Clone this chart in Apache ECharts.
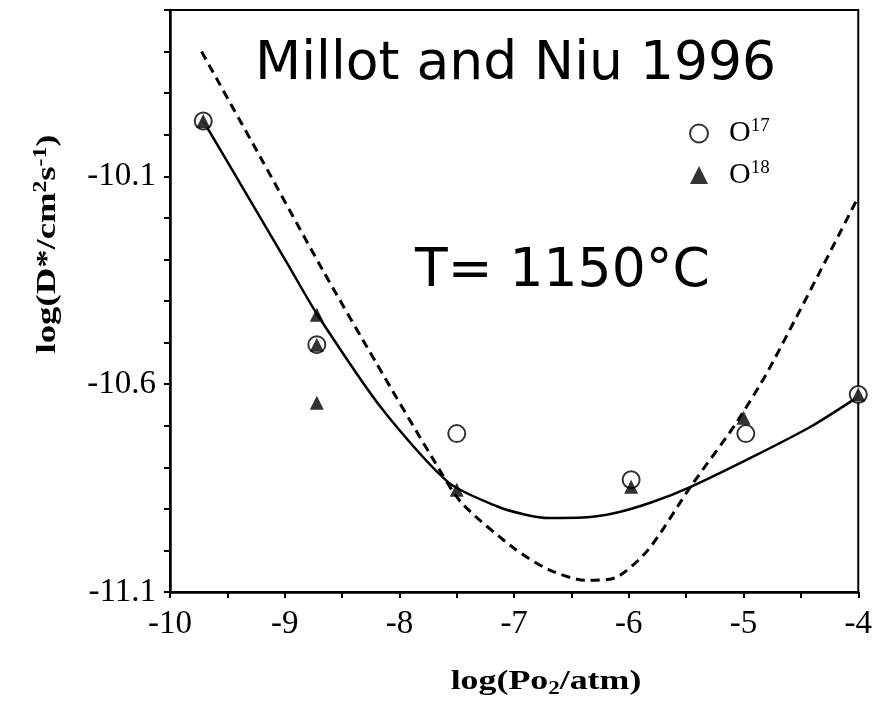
<!DOCTYPE html>
<html>
<head>
<meta charset="utf-8">
<script src="https://cdn.jsdelivr.net/npm/echarts@6.0.0/dist/echarts.min.js"></script>
<style>
  html, body { margin: 0; padding: 0; background: #fff; }
  #chart { width: 875px; height: 705px; }
</style>
</head>
<body>
<div id="chart"></div>
<script>
// ---- data ----
const xTickLabels = [-10, -9, -8, -7, -6, -5, -4];
const yTickLabels = [-10.1, -10.6, -11.1];

const o17Points = [
  [-9.71, -9.967], [-8.72, -10.505], [-7.5, -10.719],
  [-5.98, -10.83], [-4.98, -10.719], [-4.0, -10.625]
];
const o18Points = [
  [-9.71, -9.967], [-8.72, -10.433], [-8.72, -10.505], [-8.72, -10.645],
  [-7.5, -10.854], [-5.98, -10.847], [-5.0, -10.681], [-4.0, -10.625]
];
const solidFit = [
  [-9.71, -9.967], [-9.35, -10.135], [-8.96, -10.318], [-8.715, -10.433],
  [-8.15, -10.66], [-7.57, -10.837], [-7.14, -10.895], [-6.90, -10.914],
  [-6.70, -10.922], [-6.40, -10.921], [-6.12, -10.91], [-5.80, -10.884],
  [-5.46, -10.847], [-4.9, -10.772], [-4.4, -10.70], [-4.0, -10.63]
];
const dashedFit = [
  [-9.725, -9.80], [-9.2, -10.06], [-8.67, -10.325], [-8.2, -10.55],
  [-7.72, -10.774], [-7.46, -10.885], [-7.0, -10.995], [-6.70, -11.046],
  [-6.38, -11.072], [-6.12, -11.066], [-5.83, -10.998], [-5.46, -10.846],
  [-5.08, -10.70], [-4.78, -10.565], [-4.0, -10.15]
];
const titleText = 'Millot and Niu 1996';
const tempText = 'T= 1150°C';

// ---- chart ----
const chart = echarts.init(document.getElementById('chart'), null, { renderer: 'canvas' });
const serif = '"Liberation Serif", "Times New Roman", serif';

function isIn(list, v) {
  return list.some(t => Math.abs(t - v) < 1e-6);
}

const option = {
  backgroundColor: '#ffffff',
  animation: false,
  grid: {
    left: 170, right: 14, top: 10, bottom: 113,
    show: true, borderColor: '#000', borderWidth: 2, backgroundColor: 'transparent'
  },
  xAxis: {
    type: 'value', min: -10, max: -4, interval: 0.5,
    axisLine: { show: true, onZero: false, lineStyle: { color: '#000', width: 2.5 } },
    axisTick: { show: true, inside: false, length: 6, lineStyle: { color: '#000', width: 2 } },
    splitLine: { show: false },
    axisLabel: {
      margin: 16, color: '#000', fontFamily: serif, fontSize: 33,
      formatter: v => isIn(xTickLabels, v) ? String(Math.round(v)) : ''
    }
  },
  yAxis: {
    type: 'value', min: -11.1, max: -9.7, interval: 0.1,
    axisLine: { show: true, onZero: false, lineStyle: { color: '#000', width: 2.5 } },
    axisTick: { show: true, inside: false, length: 6, lineStyle: { color: '#000', width: 2 } },
    splitLine: { show: false },
    axisLabel: {
      margin: 14, color: '#000', fontFamily: serif, fontSize: 33,
      showMinLabel: true, showMaxLabel: true,
      formatter: v => isIn(yTickLabels, v) ? v.toFixed(1) : ''
    }
  },
  legend: {
    data: [
      { name: 'O17', itemStyle: { borderWidth: 2.5, borderColor: '#000' } },
      { name: 'O18', itemStyle: { borderWidth: 0 } }
    ],
    orient: 'vertical', left: 684, top: 112,
    itemWidth: 18, itemHeight: 18, itemGap: 10,
    selectedMode: false,
    textStyle: {
      color: '#000', padding: [0, 0, 0, 16],
      rich: {
        o: { fontFamily: serif, fontSize: 30, color: '#000' },
        s: { fontFamily: serif, fontSize: 19, color: '#000', verticalAlign: 'top', padding: [0, 0, 14, 0] }
      }
    },
    formatter: name => '{o|O}{s|' + name.slice(1) + '}'
  },
  graphic: [
    {
      type: 'text', left: 255, top: 38, silent: true,
      style: { text: titleText, font: '53.5px "DejaVu Sans"', fill: '#000' }
    },
    {
      type: 'text', left: 415, top: 245, silent: true,
      style: { text: tempText, font: '53.5px "DejaVu Sans"', fill: '#000' }
    },
    {
      type: 'text', x: 546, y: 682, scaleX: 1.28, silent: true,
      style: {
        text: '{a|log(Po}{b|2}{a|/atm)}',
        align: 'center', verticalAlign: 'middle',
        rich: {
          a: { fontFamily: serif, fontWeight: 'bold', fontSize: 28, fill: '#000', color: '#000' },
          b: { fontFamily: serif, fontWeight: 'bold', fontSize: 18, fill: '#000', color: '#000', verticalAlign: 'bottom', padding: [14, 0, 0, 0] }
        }
      }
    },
    {
      type: 'text', x: 48, y: 244, rotation: Math.PI / 2, scaleX: 1.31, silent: true,
      style: {
        text: '{a|log(D*/cm}{s|2}{a|s}{s|-1}{a|)}',
        align: 'center', verticalAlign: 'middle',
        rich: {
          a: { fontFamily: serif, fontWeight: 'bold', fontSize: 28, fill: '#000', color: '#000' },
          s: { fontFamily: serif, fontWeight: 'bold', fontSize: 18, fill: '#000', color: '#000', verticalAlign: 'top', padding: [0, 0, 14, 0] }
        }
      }
    }
  ],
  series: [
    {
      name: 'fit', type: 'line', data: solidFit, smooth: 0.25,
      showSymbol: false, silent: true,
      lineStyle: { color: '#000', width: 2.5 }, z: 2
    },
    {
      name: 'model', type: 'line', data: dashedFit, smooth: 0.25,
      showSymbol: false, silent: true,
      lineStyle: { color: '#000', width: 3, type: [9, 6] }, z: 2
    },
    {
      name: 'O17', type: 'scatter', data: o17Points, symbol: 'emptyCircle', symbolSize: 17,
      itemStyle: { color: '#000', borderColor: '#000', borderWidth: 2.5 }, z: 3
    },
    {
      name: 'O18', type: 'scatter', data: o18Points, symbol: 'triangle', symbolSize: 14,
      itemStyle: { color: '#000' }, z: 4
    }
  ]
};
chart.setOption(option);
</script>
</body>
</html>
